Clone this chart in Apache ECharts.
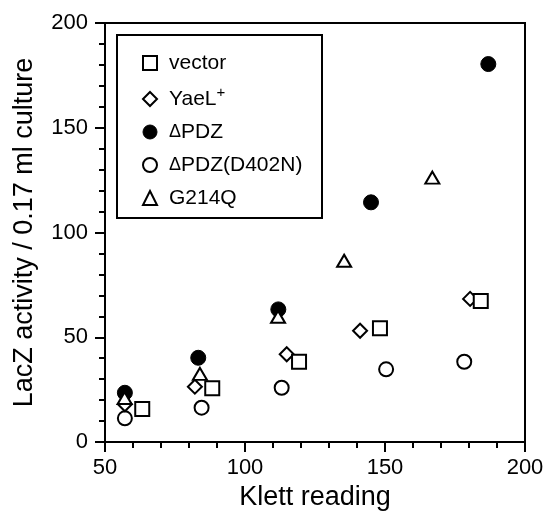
<!DOCTYPE html>
<html>
<head>
<meta charset="utf-8">
<script src="https://cdn.jsdelivr.net/npm/echarts@6/dist/echarts.min.js"></script>
<style>html,body{margin:0;padding:0;background:#fff}#c{width:555px;height:517px}</style>
</head>
<body>
<div id="c"></div>
<script>
var seriesNames = ['vector', 'YaeL+', 'ΔPDZ', 'ΔPDZ(D402N)', 'G214Q'];
var vectorData = [[63.3, 15.8], [88.3, 25.6], [119.3, 38.3], [148.2, 54.3], [184.2, 67.3]];
var yaelData = [[57.1, 18.0], [82.1, 26.4], [114.9, 41.9], [141.1, 53.1], [180.4, 68.3]];
var dpdzData = [[57.1, 23.5], [83.3, 40.2], [111.9, 63.3], [145.0, 114.4], [186.9, 180.4]];
var d402nData = [[57.1, 11.3], [84.5, 16.4], [113.1, 25.9], [150.4, 34.7], [178.3, 38.3]];
var g214qData = [[57.0, 21.0], [83.9, 32.5], [111.8, 59.8], [135.4, 86.5], [166.9, 126.2]];
var xTicks = [50, 100, 150, 200];
var yTicks = [0, 50, 100, 150, 200];

var FONT = 'Liberation Sans';
var hollow = {color: '#fff', borderColor: '#000', borderWidth: 2, opacity: 1};
var filled = {color: '#000', borderColor: '#000', borderWidth: 1, opacity: 1};

function axisCommon(minV, maxV, step) {
  return {
    type: 'value', min: minV, max: maxV, interval: step,
    axisLine: {show: true, onZero: false, lineStyle: {color: '#000', width: 2}},
    axisTick: {show: true, inside: false, length: 10, lineStyle: {color: '#000', width: 2}},
    minorTick: {show: true, splitNumber: 5, length: 6, lineStyle: {color: '#000', width: 2}},
    splitLine: {show: false}, minorSplitLine: {show: false},
    axisLabel: {color: '#000', fontSize: 22, fontFamily: FONT}
  };
}
var xa = axisCommon(xTicks[0], xTicks[xTicks.length - 1], xTicks[1] - xTicks[0]);
xa.axisLabel.margin = 15;
xa.name = 'Klett reading';
xa.nameLocation = 'middle';
xa.nameGap = 42;
xa.nameTextStyle = {color: '#000', fontSize: 27, fontFamily: FONT};
var ya = axisCommon(yTicks[0], yTicks[yTicks.length - 1], yTicks[1] - yTicks[0]);
ya.axisLabel.margin = 17;
ya.name = 'LacZ activity / 0.17 ml culture';
ya.nameLocation = 'middle';
ya.nameGap = 67;
ya.nameTextStyle = {color: '#000', fontSize: 27, fontFamily: FONT};

var styles = [
  {symbol: 'rect', size: 14, style: hollow, z: 5, data: vectorData},
  {symbol: 'diamond', size: 14, style: hollow, z: 3, data: yaelData},
  {symbol: 'circle', size: 15, style: filled, z: 4, data: dpdzData},
  {symbol: 'circle', size: 14, style: hollow, z: 2, data: d402nData},
  {symbol: 'triangle', size: [14, 12], style: hollow, z: 6, data: g214qData}
];

var series = styles.map(function (s, i) {
  return {
    name: seriesNames[i], type: 'scatter', symbol: s.symbol, symbolSize: s.size,
    itemStyle: s.style, z: s.z, data: s.data, emphasis: {disabled: true}
  };
});

var option = {
  animation: false,
  backgroundColor: '#fff',
  grid: {left: 105, right: 30, top: 23, bottom: 75, show: true, borderColor: '#000', borderWidth: 2, backgroundColor: 'transparent'},
  xAxis: xa,
  yAxis: ya,
  legend: {
    orient: 'vertical', left: 137, top: 47, itemGap: 11, itemWidth: 14, itemHeight: 14,
    selectedMode: false,
    data: seriesNames.map(function (n, i) {
      return {name: n, icon: styles[i].symbol, itemStyle: styles[i].style};
    }),
    textStyle: {color: '#000', fontSize: 21, fontFamily: FONT, lineHeight: 22, padding: [0, 0, 0, 7],
      rich: {
        sup: {fontSize: 15, fontFamily: FONT, color: '#000', verticalAlign: 'bottom', lineHeight: 12, padding: [0, 0, 10, 0]},
        d: {fontSize: 18, fontFamily: FONT, color: '#000', lineHeight: 22}
      }
    },
    formatter: function (name) {
      if (name === 'YaeL+') return 'YaeL{sup|+}';
      if (name.charAt(0) === 'Δ') return '{d|Δ}' + name.slice(1);
      return name;
    }
  },
  graphic: [{
    type: 'rect', left: 116, top: 34, z: 10,
    shape: {width: 205, height: 183},
    style: {fill: 'transparent', stroke: '#000', lineWidth: 2}
  }],
  series: series
};
var chart = echarts.init(document.getElementById('c'), null, {renderer: 'canvas'});
chart.setOption(option);
</script>
</body>
</html>
